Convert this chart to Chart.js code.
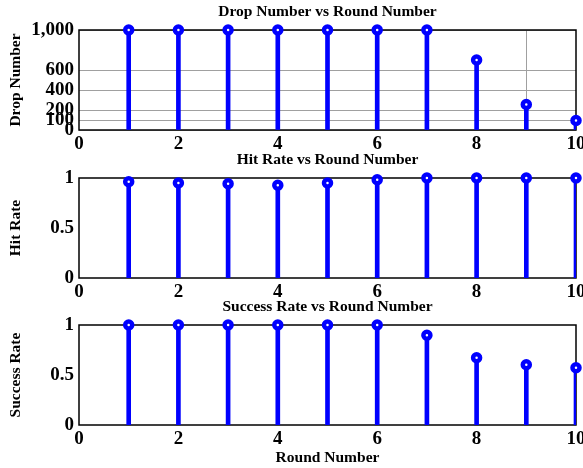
<!DOCTYPE html>
<html>
<head>
<meta charset="utf-8">
<script src="https://cdn.jsdelivr.net/npm/chart.js@4/dist/chart.umd.min.js"></script>
<style>
  html, body { margin: 0; padding: 0; background: #fff; width: 583px; height: 468px; overflow: hidden; }
  canvas { position: absolute; left: 0; }
</style>
</head>
<body>
<canvas id="c1" width="595" height="150" style="top:0px"></canvas>
<canvas id="c2" width="595" height="150" style="top:148px"></canvas>
<canvas id="c3" width="595" height="173" style="top:295px"></canvas>
<script>
const rounds = [1, 2, 3, 4, 5, 6, 7, 8, 9, 10];
const dropNumbers = [1000, 1000, 1000, 1000, 1000, 1000, 1000, 700, 255, 95];
const hitRates = [0.963, 0.95, 0.943, 0.927, 0.95, 0.983, 1.0, 1.0, 1.0, 1.0];
const successRates = [1.0, 1.0, 1.0, 1.0, 1.0, 1.0, 0.897, 0.673, 0.603, 0.573];
const dropTicks = [0, 100, 200, 400, 600, 1000];
const rateTicks = [0, 0.5, 1];
const xTicks = [0, 2, 4, 6, 8, 10];

const FONT = "'Liberation Serif', 'Times New Roman', serif";
const BLUE = '#0000ff';

const framePlugin = {
  id: 'frame',
  beforeDatasetsDraw(chart) {
    const a = chart.chartArea, ctx = chart.ctx;
    ctx.save();
    ctx.strokeStyle = '#000';
    ctx.lineWidth = 1.5;
    ctx.strokeRect(a.left, a.top, a.right - a.left, a.bottom - a.top);
    ctx.restore();
  }
};

function makeChart(id, title, yTitle, values, yTicks, yMax, opts) {
  const pts = rounds.map((r, i) => ({ x: r, y: values[i] }));
  const xHeight = opts.xTitle ? 43 : 20;
  return new Chart(document.getElementById(id), {
    data: {
      datasets: [
        {
          type: 'line', data: pts, showLine: false, clip: false,
          pointRadius: 3.5, pointBorderWidth: 4.5, pointBorderColor: BLUE,
          pointBackgroundColor: '#fff', borderColor: BLUE, order: 0
        },
        {
          type: 'bar', data: pts, backgroundColor: BLUE, barThickness: 4,
          borderWidth: 0, order: 1
        }
      ]
    },
    options: {
      responsive: false, animation: false, devicePixelRatio: 1,
      layout: { padding: { left: 0, right: 19, top: 0, bottom: 0 } },
      plugins: {
        legend: { display: false }, tooltip: { enabled: false },
        title: {
          display: true, text: title, color: '#000', fullSize: false,
          font: { family: FONT, size: 15.5, weight: 'bold', lineHeight: 1.2 },
          padding: { top: 3, bottom: 8.4 }
        }
      },
      scales: {
        x: {
          type: 'linear', min: 0, max: 10, offset: false,
          afterBuildTicks: s => { s.ticks = xTicks.map(v => ({ value: v })); },
          afterFit: s => { s.height = xHeight; },
          grid: { display: opts.grid, color: '#a0a0a0', lineWidth: 1, drawTicks: false },
          border: { display: false },
          ticks: { color: '#000', padding: 4, autoSkip: false, maxRotation: 0,
                   font: { family: FONT, size: 19, weight: 'bold', lineHeight: 1.1 } },
          title: {
            display: !!opts.xTitle, text: opts.xTitle || '', color: '#000',
            font: { family: FONT, size: 15.5, weight: 'bold', lineHeight: 1.2 },
            padding: { top: 0, bottom: 1 }
          }
        },
        y: {
          type: 'linear', min: 0, max: yMax,
          afterBuildTicks: s => { s.ticks = yTicks.map(v => ({ value: v })); },
          afterFit: s => { s.width = 79; },
          grid: { display: opts.grid, color: '#a0a0a0', lineWidth: 1, drawTicks: false },
          border: { display: false },
          ticks: {
            color: '#000', padding: 5, autoSkip: false,
            font: { family: FONT, size: 19, weight: 'bold', lineHeight: 1.1 },
            callback: v => v.toLocaleString('en-US')
          },
          title: {
            display: true, text: yTitle, color: '#000',
            font: { family: FONT, size: 15.5, weight: 'bold', lineHeight: 1.2 },
            padding: { top: 7, bottom: 0 }
          }
        }
      }
    },
    plugins: [framePlugin]
  });
}

makeChart('c1', 'Drop Number vs Round Number', 'Drop Number', dropNumbers, dropTicks, 1000, { grid: true });
makeChart('c2', 'Hit Rate vs Round Number', 'Hit Rate', hitRates, rateTicks, 1, { grid: false });
makeChart('c3', 'Success Rate vs Round Number', 'Success Rate', successRates, rateTicks, 1, { grid: false, xTitle: 'Round Number' });
</script>
</body>
</html>
